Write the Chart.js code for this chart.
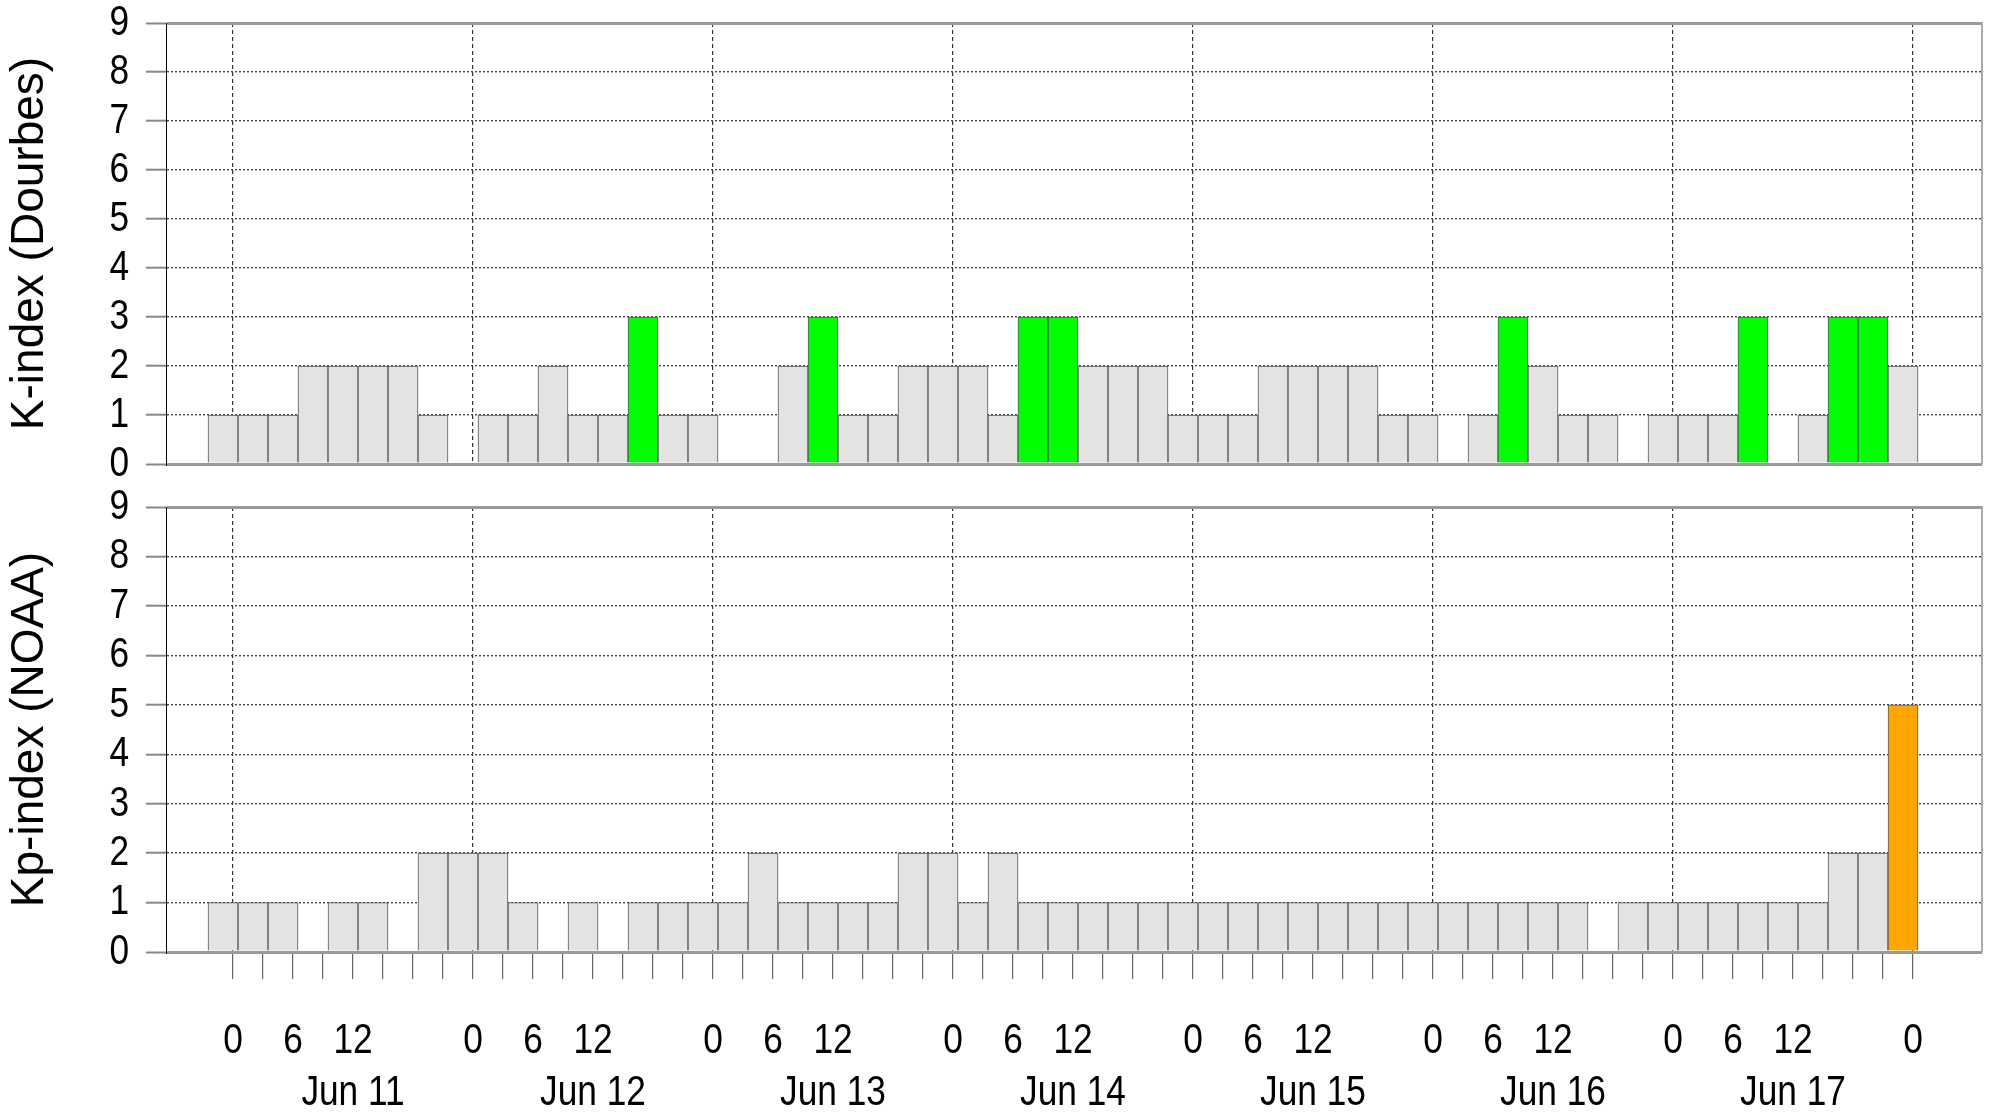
<!DOCTYPE html>
<html>
<head>
<meta charset="utf-8">
<title>K-index Dourbes / Kp-index NOAA</title>
<script src="https://cdn.jsdelivr.net/npm/chart.js@4.4.1/dist/chart.umd.min.js"></script>
<style>
  html, body { margin: 0; padding: 0; background: #fff; }
  #wrap { position: relative; width: 1990px; height: 1112px; overflow: hidden; }
  #wrap canvas { position: absolute; left: 0; }
  #k-chart { top: 0; }
  #kp-chart { top: 480px; }
</style>
</head>
<body>
<div id="wrap">
  <canvas id="k-chart" width="1990" height="490"></canvas>
  <canvas id="kp-chart" width="1990" height="632"></canvas>
</div>
<script>
(function () {
  'use strict';

  // 3-hour bins from Jun 11 to Jun 17 (plus first bin of Jun 18)
  const dayLabels = ['Jun 11', 'Jun 12', 'Jun 13', 'Jun 14', 'Jun 15', 'Jun 16', 'Jun 17'];
  const hourTicks = [0, 6, 12];

  const kDourbes = [
    1, 1, 1, 2, 2, 2, 2, 1,
    0, 1, 1, 2, 1, 1, 3, 1,
    1, 0, 0, 2, 3, 1, 1, 2,
    2, 2, 1, 3, 3, 2, 2, 2,
    1, 1, 1, 2, 2, 2, 2, 1,
    1, 0, 1, 3, 2, 1, 1, 0,
    1, 1, 1, 3, 0, 1, 3, 3,
    2
  ];

  const kpNoaa = [
    1, 1, 1, 0, 1, 1, 0, 2,
    2, 2, 1, 0, 1, 0, 1, 1,
    1, 1, 2, 1, 1, 1, 1, 2,
    2, 1, 2, 1, 1, 1, 1, 1,
    1, 1, 1, 1, 1, 1, 1, 1,
    1, 1, 1, 1, 1, 1, 0, 1,
    1, 1, 1, 1, 1, 1, 2, 2,
    5
  ];

  const firstBinHour = -1;   // centre of first bar, hours after Jun 11 00 UT
  const binHours = 3;
  const lastHour = 168;      // Jun 18 00 UT

  const sans = "'Liberation Sans', Arial, Helvetica, sans-serif";

  function barColor(v) {
    if (v >= 5) return '#ffa500';
    if (v >= 3) return '#00ff00';
    return '#e3e3e3';
  }

  function tickLabel(h) {
    if (h < 0 || h > lastHour) return '';
    const hod = h % 24;
    if (hourTicks.indexOf(hod) < 0) return '';
    if (hod === 12) return [String(hod), dayLabels[Math.floor(h / 24)]];
    return String(hod);
  }

  // no Helvetica Narrow here: squeeze the unrotated (tick) labels instead
  function narrowTicks(canvas) {
    const g = canvas.getContext('2d');
    const fillText = g.fillText;
    g.fillText = function (text, x, y, maxWidth) {
      if (this.getTransform().b === 0 && maxWidth === undefined) {
        maxWidth = this.measureText(text).width * 0.82;
      }
      return fillText.call(this, text, x, y, maxWidth);
    };
  }

  const isDay = (c) => c.tick && c.tick.value >= 0 && c.tick.value <= lastHour && c.tick.value % 24 === 0;
  const inRange = (c) => c.tick && c.tick.value >= 0 && c.tick.value <= lastHour;
  const isFrame = (c) => c.tick && (c.tick.value === 0 || c.tick.value === 9);

  function xScale(withLabels) {
    return {
      type: 'linear',
      position: 'bottom',
      min: -6.7,
      max: 174.9,
      offset: false,
      grid: {
        offset: false,
        color: (c) => isDay(c) ? '#333' : 'transparent',
        lineWidth: 1.2,
        drawTicks: withLabels,
        tickLength: 27,
        tickColor: (c) => inRange(c) ? '#666' : 'transparent',
        tickWidth: 1.2,
        tickBorderDash: []
      },
      border: { display: false, dash: [4, 3] },
      ticks: {
        display: withLabels,
        stepSize: 3,
        includeBounds: false,
        autoSkip: false,
        maxRotation: 0,
        minRotation: 0,
        padding: 36,
        color: '#000',
        font: { family: sans, size: 43, lineHeight: 1.21 },
        callback: (value) => tickLabel(value)
      },
      afterFit: (scale) => {
        scale.height = withLabels ? 160 : 0;
        scale.paddingLeft = 0;
        scale.paddingRight = 0;
      }
    };
  }

  function yScale(title) {
    return {
      position: 'left',
      min: 0,
      max: 9,
      ticks: {
        stepSize: 1,
        autoSkip: false,
        padding: 17,
        color: '#000',
        font: { family: sans, size: 43 }
      },
      grid: {
        color: (c) => isFrame(c) ? '#9a9a9a' : '#444',
        lineWidth: (c) => isFrame(c) ? 3 : 1.4,
        tickLength: 20,
        tickColor: '#888',
        tickWidth: 2,
        tickBorderDash: []
      },
      border: {
        display: true,
        color: '#000',
        width: 1,
        dash: (c) => (c.tick && !isFrame(c)) ? [2, 2] : []
      },
      title: {
        display: true,
        text: title,
        color: '#000',
        font: { family: sans, size: 46 },
        padding: { top: 3, bottom: 0 }
      },
      afterFit: (scale) => {
        scale.width = 166;
        scale.paddingTop = 0;
        scale.paddingBottom = 0;
      }
    };
  }

  const rightFrame = {
    position: 'right',
    min: 0,
    max: 9,
    ticks: { display: false },
    grid: { drawOnChartArea: false, drawTicks: false },
    border: { display: true, color: '#aaa', width: 2 },
    afterFit: (scale) => {
      scale.width = 0;
      scale.paddingTop = 0;
      scale.paddingBottom = 0;
    }
  };

  function makeChart(id, values, title, withLabels, padding) {
    const ctx = document.getElementById(id);
    narrowTicks(ctx);
    return new Chart(ctx, {
      type: 'bar',
      data: {
        datasets: [{
          label: title,
          data: values.map((v, i) => ({ x: firstBinHour + i * binHours, y: v })),
          backgroundColor: (c) => barColor(c.raw ? c.raw.y : 0),
          borderColor: '#555',
          borderWidth: 1,
          borderSkipped: 'start',
          barPercentage: 1,
          categoryPercentage: 1
        }]
      },
      options: {
        responsive: false,
        animation: false,
        events: [],
        devicePixelRatio: 1,
        layout: { padding: padding },
        scales: {
          x: xScale(withLabels),
          y: yScale(title),
          y2: rightFrame
        },
        plugins: {
          legend: { display: false },
          tooltip: { enabled: false }
        }
      }
    });
  }

  // Chart 1
  makeChart('k-chart', kDourbes, 'K-index (Dourbes)', false, { top: 23, bottom: 26, left: 0, right: 8 });

  // Chart 2
  makeChart('kp-chart', kpNoaa, 'Kp-index (NOAA)', true, { top: 27, bottom: 0, left: 0, right: 8 });
})();
</script>
</body>
</html>
